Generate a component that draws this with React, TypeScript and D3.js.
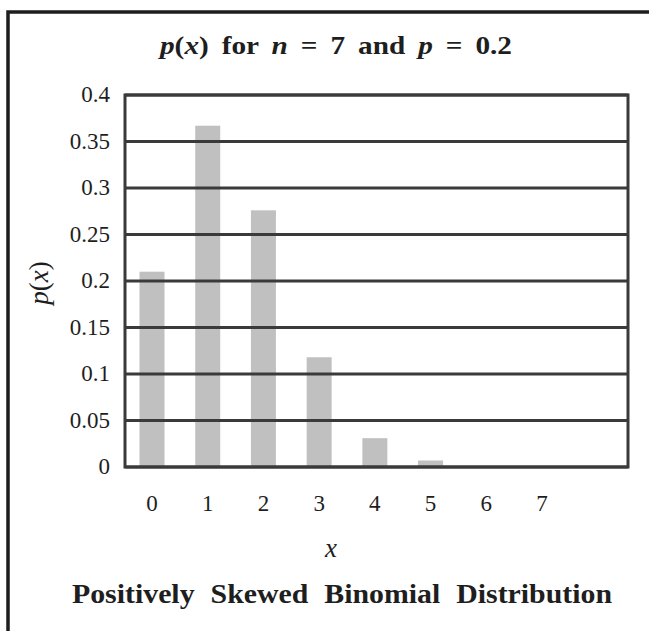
import React from "react";
import * as d3 from "d3";

const categories = ["0", "1", "2", "3", "4", "5", "6", "7"];
const probabilities = [0.21, 0.367, 0.276, 0.118, 0.031, 0.007, 0.0004, 0.00001];
const yTicks = [0, 0.05, 0.1, 0.15, 0.2, 0.25, 0.3, 0.35, 0.4];

const W = 649;
const H = 631;
const plot = { left: 125, right: 628, top: 95, bottom: 467 };
const FONT = "'Liberation Serif', 'DejaVu Serif', serif";
const INK = "#1e1e1e";
const GRID = "#3a3a3a";

export default function App() {
  const y = d3.scaleLinear().domain([0, 0.4]).range([plot.bottom, plot.top]);
  const x = d3.scalePoint<string>().domain(categories).range([152, 542]);
  const barW = 25;

  return (
    <svg
      width={W}
      height={H}
      style={{ position: "absolute", left: 0, top: 0, background: "#fff" }}
      fontFamily={FONT}
    >
      <rect x={0} y={0} width={W} height={H} fill="#fff" />
      {/* outer frame */}
      <path d={`M8,${H} V12 H${W}`} fill="none" stroke={INK} strokeWidth={3.5} />

      {/* title */}
      <text
        x={336}
        y={54}
        fontSize={26}
        fontWeight="bold"
        textAnchor="middle"
        fill={INK}
        wordSpacing={5}
        textLength={352}
        lengthAdjust="spacingAndGlyphs"
      >
        <tspan fontStyle="italic">p</tspan>
        <tspan>(</tspan>
        <tspan fontStyle="italic">x</tspan>
        <tspan>) for </tspan>
        <tspan fontStyle="italic">n</tspan>
        <tspan> = 7 and </tspan>
        <tspan fontStyle="italic">p</tspan>
        <tspan> = 0.2</tspan>
      </text>

      {/* bars */}
      {probabilities.map((v, i) => (
        <rect
          key={i}
          x={(x(categories[i]) as number) - barW / 2}
          y={y(v)}
          width={barW}
          height={plot.bottom - y(v)}
          fill="#c0c0c0"
        />
      ))}

      {/* gridlines */}
      {yTicks.map((t) => (
        <line
          key={t}
          x1={plot.left}
          x2={plot.right}
          y1={y(t)}
          y2={y(t)}
          stroke={GRID}
          strokeWidth={3}
        />
      ))}
      {/* plot border */}
      <rect
        x={plot.left}
        y={plot.top}
        width={plot.right - plot.left}
        height={plot.bottom - plot.top}
        fill="none"
        stroke={GRID}
        strokeWidth={3}
      />

      {/* y tick labels */}
      {yTicks.map((t) => (
        <text
          key={"l" + t}
          x={110}
          y={y(t) + 7}
          fontSize={23}
          textAnchor="end"
          fill={INK}
        >
          {String(+t.toFixed(2))}
        </text>
      ))}

      {/* y axis label */}
      <text
        transform={`translate(48,283) rotate(-90)`}
        fontSize={27}
        textAnchor="middle"
        fill={INK}
      >
        <tspan fontStyle="italic">p</tspan>
        <tspan>(</tspan>
        <tspan fontStyle="italic">x</tspan>
        <tspan>)</tspan>
      </text>

      {/* x tick labels */}
      {categories.map((c) => (
        <text
          key={"x" + c}
          x={x(c) as number}
          y={511}
          fontSize={23}
          textAnchor="middle"
          fill={INK}
        >
          {c}
        </text>
      ))}

      {/* x axis label */}
      <text x={331} y={557} fontSize={27} fontStyle="italic" textAnchor="middle" fill={INK}>
        x
      </text>

      {/* bottom title */}
      <text
        x={342}
        y={603}
        fontSize={28}
        fontWeight="bold"
        fill={INK}
        textAnchor="middle"
        wordSpacing={8}
        textLength={540}
        lengthAdjust="spacingAndGlyphs"
      >
        Positively Skewed Binomial Distribution
      </text>
    </svg>
  );
}
